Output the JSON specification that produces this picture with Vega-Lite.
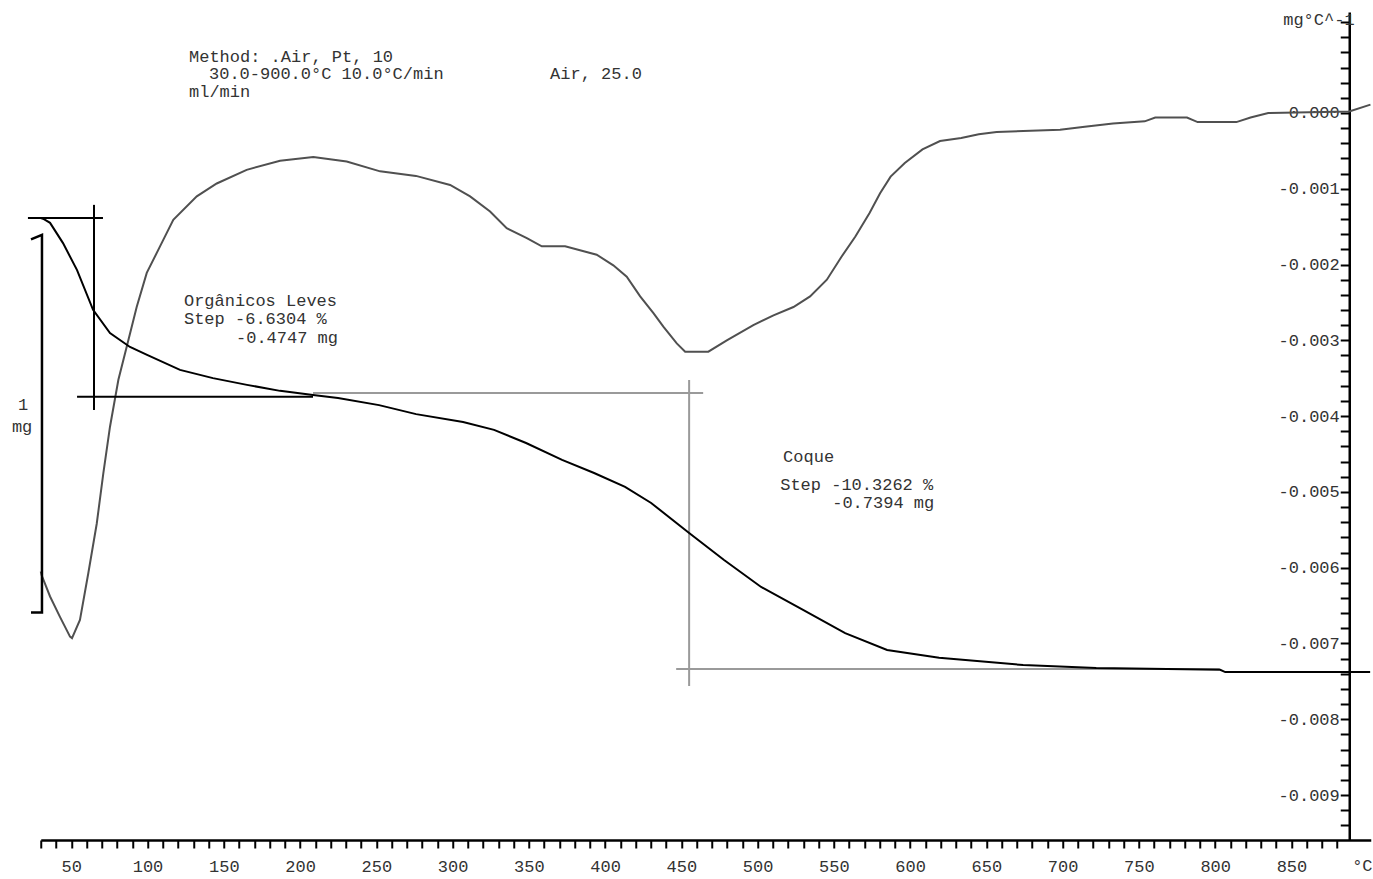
{
  "$schema": "https://vega.github.io/schema/vega-lite/v6.json",
  "width": 1330,
  "height": 828,
  "autosize": {"type": "none"},
  "padding": {"left": 40.75, "top": 12, "right": 2.25, "bottom": 39},
  "background": "white",
  "config": {"view": {"stroke": null}, "font": "Liberation Mono"},
  "datasets": {
    "dtg": [
      {"T": 30, "v": -0.00605}, {"T": 30.6, "v": -0.0061}, {"T": 36.1, "v": -0.00638}, {"T": 42.6, "v": -0.00665},
      {"T": 49.2, "v": -0.00691}, {"T": 50.5, "v": -0.00693}, {"T": 55.7, "v": -0.00669}, {"T": 61.2, "v": -0.00607},
      {"T": 66.7, "v": -0.00542}, {"T": 71.0, "v": -0.00476}, {"T": 75.4, "v": -0.00414}, {"T": 80.9, "v": -0.00352},
      {"T": 86.4, "v": -0.00308}, {"T": 92.9, "v": -0.00256}, {"T": 99.5, "v": -0.00211}, {"T": 108.2, "v": -0.00176},
      {"T": 116.9, "v": -0.00141}, {"T": 132.3, "v": -0.0011}, {"T": 145.4, "v": -0.00093}, {"T": 165.0, "v": -0.00075},
      {"T": 186.9, "v": -0.00063}, {"T": 208.7, "v": -0.00058}, {"T": 230.6, "v": -0.00064}, {"T": 252.5, "v": -0.00077},
      {"T": 276.0, "v": -0.00083}, {"T": 298.4, "v": -0.00095}, {"T": 311.5, "v": -0.0011}, {"T": 324.6, "v": -0.0013},
      {"T": 335.5, "v": -0.00152}, {"T": 348.7, "v": -0.00165}, {"T": 358.5, "v": -0.00176}, {"T": 373.8, "v": -0.00176},
      {"T": 394.5, "v": -0.00187}, {"T": 405.4, "v": -0.00201}, {"T": 414.2, "v": -0.00216}, {"T": 423.0, "v": -0.00242},
      {"T": 431.7, "v": -0.00264}, {"T": 438.2, "v": -0.00282}, {"T": 447.0, "v": -0.00304}, {"T": 452.5, "v": -0.00315},
      {"T": 467.7, "v": -0.00315}, {"T": 479.8, "v": -0.003}, {"T": 497.2, "v": -0.0028}, {"T": 510.4, "v": -0.00267},
      {"T": 523.5, "v": -0.00256}, {"T": 534.4, "v": -0.00242}, {"T": 545.4, "v": -0.0022}, {"T": 554.9, "v": -0.0019},
      {"T": 564.1, "v": -0.00163}, {"T": 573.4, "v": -0.00132}, {"T": 580.3, "v": -0.00106}, {"T": 587.2, "v": -0.00084},
      {"T": 596.5, "v": -0.00066}, {"T": 608.1, "v": -0.00048}, {"T": 619.6, "v": -0.00037}, {"T": 633.5, "v": -0.00033},
      {"T": 645.0, "v": -0.00028}, {"T": 656.7, "v": -0.00025}, {"T": 698.3, "v": -0.00022}, {"T": 714.5, "v": -0.00018},
      {"T": 733.0, "v": -0.00014}, {"T": 753.8, "v": -0.00011}, {"T": 760.7, "v": -0.00006}, {"T": 781.5, "v": -0.00006},
      {"T": 788.5, "v": -0.00012}, {"T": 813.9, "v": -0.00012}, {"T": 823.2, "v": -0.00006}, {"T": 834.8, "v": 0.0},
      {"T": 887.9, "v": 0.00002}, {"T": 901.8, "v": 0.00011}
    ],
    "tga": [
      {"T": 30, "m": 7.159}, {"T": 31.5, "m": 7.157}, {"T": 36.1, "m": 7.146}, {"T": 44.6, "m": 7.092},
      {"T": 53.8, "m": 7.02}, {"T": 64.3, "m": 6.914}, {"T": 75.4, "m": 6.852}, {"T": 88.5, "m": 6.815},
      {"T": 99.7, "m": 6.794}, {"T": 121.3, "m": 6.754}, {"T": 142.9, "m": 6.732}, {"T": 165.2, "m": 6.714},
      {"T": 186.9, "m": 6.698}, {"T": 208.5, "m": 6.687}, {"T": 224.9, "m": 6.679}, {"T": 251.8, "m": 6.66},
      {"T": 276.1, "m": 6.636}, {"T": 306.9, "m": 6.615}, {"T": 327.2, "m": 6.594}, {"T": 348.2, "m": 6.559},
      {"T": 371.8, "m": 6.514}, {"T": 392.8, "m": 6.479}, {"T": 413.1, "m": 6.442}, {"T": 430.2, "m": 6.399},
      {"T": 455.1, "m": 6.319}, {"T": 478.0, "m": 6.247}, {"T": 502.3, "m": 6.175}, {"T": 529.8, "m": 6.114},
      {"T": 557.4, "m": 6.052}, {"T": 584.9, "m": 6.007}, {"T": 619.0, "m": 5.986}, {"T": 674.1, "m": 5.967},
      {"T": 722.0, "m": 5.959}, {"T": 803.3, "m": 5.954}, {"T": 806.6, "m": 5.948}, {"T": 901.6, "m": 5.948}
    ],
    "stepBlack": [
      {"seg": "a", "i": 0, "T": 21.6, "m": 7.159}, {"seg": "a", "i": 1, "T": 70.8, "m": 7.159},
      {"seg": "b", "i": 0, "T": 64.9, "m": 7.194}, {"seg": "b", "i": 1, "T": 64.9, "m": 6.647},
      {"seg": "c", "i": 0, "T": 53.8, "m": 6.682}, {"seg": "c", "i": 1, "T": 208.5, "m": 6.682}
    ],
    "stepGray": [
      {"seg": "d", "i": 0, "T": 208.5, "m": 6.692}, {"seg": "d", "i": 1, "T": 464.3, "m": 6.692},
      {"seg": "e", "i": 0, "T": 455.1, "m": 6.727}, {"seg": "e", "i": 1, "T": 455.1, "m": 5.911},
      {"seg": "f", "i": 0, "T": 446.6, "m": 5.956}, {"seg": "f", "i": 1, "T": 803.0, "m": 5.956}
    ],
    "bracket": [
      {"i": 0, "T": 23.6, "m": 7.102}, {"i": 1, "T": 30.8, "m": 7.114},
      {"i": 2, "T": 30.8, "m": 6.107}, {"i": 3, "T": 23.6, "m": 6.107}
    ],
    "notes": [
      {"T": 127.2, "v": 0.000739, "text": "Method: .Air, Pt, 10"},
      {"T": 140.3, "v": 0.000515, "text": "30.0-900.0°C 10.0°C/min"},
      {"T": 127.2, "v": 0.000277, "text": "ml/min"},
      {"T": 363.9, "v": 0.000515, "text": "Air, 25.0"},
      {"T": 123.9, "v": -0.002475, "text": "Orgânicos Leves"},
      {"T": 123.9, "v": -0.002725, "text": "Step -6.6304 %"},
      {"T": 158.0, "v": -0.002966, "text": "-0.4747 mg"},
      {"T": 516.7, "v": -0.004539, "text": "Coque"},
      {"T": 514.8, "v": -0.004909, "text": "Step -10.3262 %"},
      {"T": 548.9, "v": -0.005146, "text": "-0.7394 mg"},
      {"T": 15.1, "v": -0.003853, "text": "1"},
      {"T": 11.1, "v": -0.004144, "text": "mg"},
      {"T": 889.8, "v": -0.009937, "text": "°C"},
      {"T": 844.6, "v": 0.001227, "text": "mg°C^-1"}
    ]
  },
  "resolve": {"scale": {"y": "independent"}},
  "encoding": {
    "x": {
      "field": "T",
      "type": "quantitative",
      "scale": {"domain": [30, 902], "nice": false, "zero": false},
      "axis": {
        "title": null,
        "grid": false,
        "values": [30,40,50,60,70,80,90,100,110,120,130,140,150,160,170,180,190,200,210,220,230,240,250,260,270,280,290,300,310,320,330,340,350,360,370,380,390,400,410,420,430,440,450,460,470,480,490,500,510,520,530,540,550,560,570,580,590,600,610,620,630,640,650,660,670,680,690,700,710,720,730,740,750,760,770,780,790,800,810,820,830,840,850,860,870,880],
        "format": "d",
        "labelExpr": "datum.value % 50 === 0 ? datum.label : ''",
        "tickSize": 8,
        "tickWidth": 2,
        "tickColor": "#000000",
        "domainColor": "#000000",
        "domainWidth": 2.5,
        "labelFont": "Liberation Mono",
        "labelFontSize": 17,
        "labelColor": "#333333",
        "labelPadding": 10,
        "labelOverlap": false,
        "labelBound": false,
        "labelFlush": false
      }
    }
  },
  "layer": [
    {
      "data": {"name": "dtg"},
      "mark": {"type": "line", "color": "#505050", "strokeWidth": 2, "clip": false},
      "encoding": {
        "y": {
          "field": "v",
          "type": "quantitative",
          "scale": {"domain": [-0.0095936, 0.0013328], "nice": false, "zero": false},
          "axis": {
            "orient": "left",
            "offset": -1308.5,
            "title": null,
            "grid": false,
            "values": [-0.0094,-0.0092,-0.009,-0.0088,-0.0086,-0.0084,-0.0082,-0.008,-0.0078,-0.0076,-0.0074,-0.0072,-0.007,-0.0068,-0.0066,-0.0064,-0.0062,-0.006,-0.0058,-0.0056,-0.0054,-0.0052,-0.005,-0.0048,-0.0046,-0.0044,-0.0042,-0.004,-0.0038,-0.0036,-0.0034,-0.0032,-0.003,-0.0028,-0.0026,-0.0024,-0.0022,-0.002,-0.0018,-0.0016,-0.0014,-0.0012,-0.001,-0.0008,-0.0006,-0.0004,-0.0002,0,0.0002,0.0004,0.0006,0.0008,0.001,0.0012],
            "labelExpr": "(round(datum.value * 10000) % 10 === 0 && datum.value < 0.0001) ? replace(format(datum.value, '.3f'), '\u2212', '-') : ''",
            "tickSize": 9,
            "tickWidth": 2,
            "tickColor": "#000000",
            "domainColor": "#000000",
            "domainWidth": 2.5,
            "labelFont": "Liberation Mono",
            "labelFontSize": 17,
            "labelColor": "#333333",
            "labelPadding": 1,
            "labelOverlap": false,
            "labelBound": false,
            "labelFlush": false
          }
        }
      }
    },
    {
      "encoding": {
        "y": {
          "field": "m",
          "type": "quantitative",
          "scale": {"domain": [5.5003, 7.7083], "nice": false, "zero": false},
          "axis": null
        }
      },
      "layer": [
        {
          "data": {"name": "stepGray"},
          "mark": {"type": "line", "color": "#9a9a9a", "strokeWidth": 2, "clip": false},
          "encoding": {"detail": {"field": "seg"}, "order": {"field": "i"}}
        },
        {
          "data": {"name": "tga"},
          "mark": {"type": "line", "color": "#000000", "strokeWidth": 2, "clip": false},
          "encoding": {}
        },
        {
          "data": {"name": "stepBlack"},
          "mark": {"type": "line", "color": "#000000", "strokeWidth": 2, "clip": false},
          "encoding": {"detail": {"field": "seg"}, "order": {"field": "i"}}
        },
        {
          "data": {"name": "bracket"},
          "mark": {"type": "line", "color": "#000000", "strokeWidth": 2.5, "clip": false},
          "encoding": {"order": {"field": "i"}}
        }
      ]
    },
    {
      "data": {"name": "notes"},
      "mark": {"type": "text", "align": "left", "baseline": "middle", "font": "Liberation Mono", "fontSize": 17, "color": "#333333", "clip": false},
      "encoding": {
        "y": {
          "field": "v",
          "type": "quantitative",
          "scale": {"domain": [-0.0095936, 0.0013328], "nice": false, "zero": false},
          "axis": null
        },
        "text": {"field": "text"}
      }
    }
  ]
}
